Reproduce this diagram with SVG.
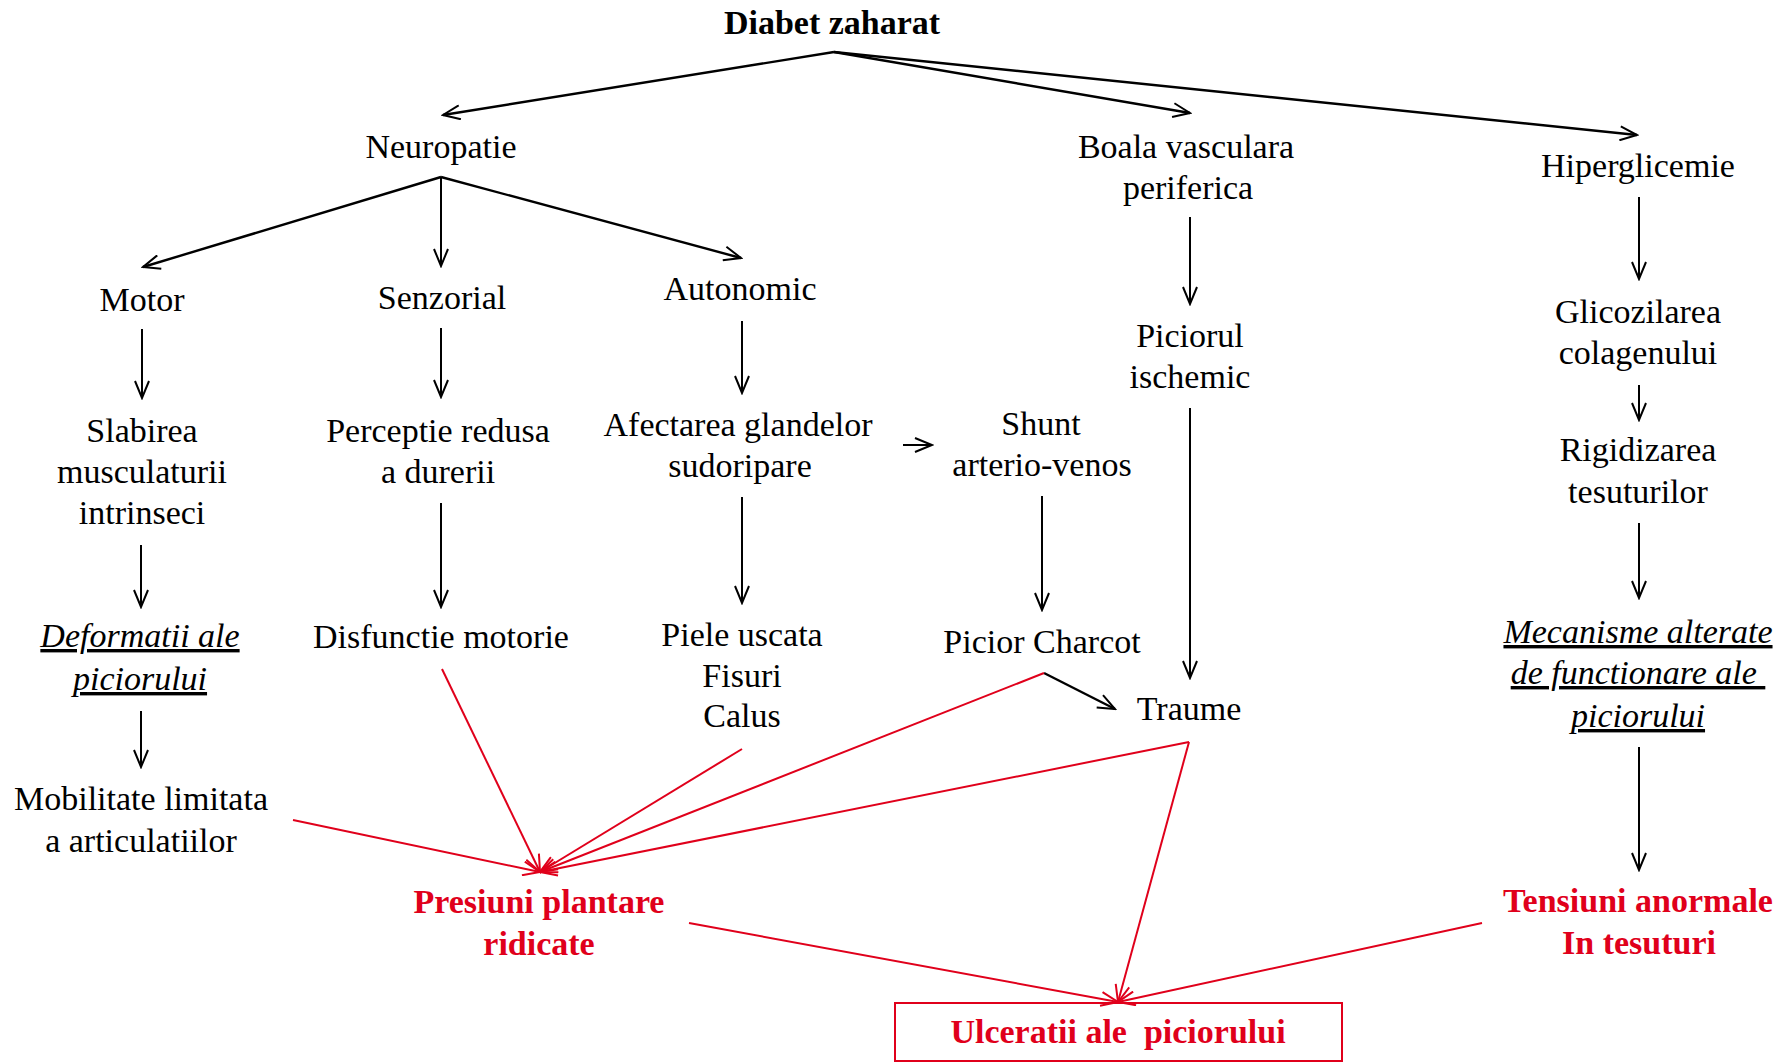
<svg xmlns="http://www.w3.org/2000/svg" width="1783" height="1063" viewBox="0 0 1783 1063">
<style>
text{font-family:"Liberation Serif","Times New Roman",serif;font-size:34px;text-anchor:middle;fill:#000}
.b{font-weight:bold}
.r{fill:#e0001b}
.i{font-style:italic;text-decoration:underline}
.pre{white-space:pre}
.k{stroke:#000;stroke-width:2;fill:none;marker-end:url(#ak)}
.kt{stroke:#000;stroke-width:2.4;fill:none;marker-end:url(#ak)}
.rd{stroke:#e0001b;stroke-width:2;fill:none;marker-end:url(#ar)}
</style>
<defs>
<marker id="ak" viewBox="0 0 20 16" refX="18" refY="8" markerWidth="20" markerHeight="16" markerUnits="userSpaceOnUse" orient="auto">
<path d="M1,1 L18,8 L1,15" fill="none" stroke="#000" stroke-width="2"/>
</marker>
<marker id="ar" viewBox="0 0 20 16" refX="18" refY="8" markerWidth="20" markerHeight="16" markerUnits="userSpaceOnUse" orient="auto">
<path d="M1,1 L18,8 L1,15" fill="none" stroke="#e0001b" stroke-width="2"/>
</marker>
</defs>
<rect width="1783" height="1063" fill="#fff"/>
<g id="connectors">
<line class="kt" x1="834" y1="52" x2="443" y2="115"/>
<line class="kt" x1="834" y1="52" x2="1190" y2="113"/>
<line class="kt" x1="834" y1="52" x2="1637" y2="135"/>
<line class="kt" x1="441" y1="177" x2="143" y2="267"/>
<line class="k" x1="441" y1="177" x2="441" y2="266"/>
<line class="kt" x1="441" y1="177" x2="741" y2="258"/>
<line class="k" x1="142" y1="329" x2="142" y2="398"/>
<line class="k" x1="441" y1="328" x2="441" y2="397"/>
<line class="k" x1="742" y1="321" x2="742" y2="393"/>
<line class="k" x1="1190" y1="217" x2="1190" y2="304"/>
<line class="k" x1="1639" y1="197" x2="1639" y2="279"/>
<line class="k" x1="903" y1="445" x2="932" y2="445"/>
<line class="k" x1="1190" y1="408" x2="1190" y2="678"/>
<line class="k" x1="1639" y1="385" x2="1639" y2="420"/>
<line class="k" x1="141" y1="545" x2="141" y2="607"/>
<line class="k" x1="441" y1="503" x2="441" y2="607"/>
<line class="k" x1="742" y1="497" x2="742" y2="603"/>
<line class="k" x1="1042" y1="496" x2="1042" y2="610"/>
<line class="k" x1="1639" y1="523" x2="1639" y2="598"/>
<line class="k" x1="141" y1="711" x2="141" y2="767"/>
<line class="kt" x1="1044" y1="673" x2="1115" y2="709"/>
<line class="k" x1="1639" y1="747" x2="1639" y2="870"/>
<line class="rd" x1="293" y1="820" x2="540" y2="872"/>
<line class="rd" x1="442" y1="669" x2="540" y2="872"/>
<line class="rd" x1="742" y1="749" x2="540" y2="872"/>
<line class="rd" x1="1044" y1="673" x2="540" y2="872"/>
<line class="rd" x1="1189" y1="742" x2="540" y2="872"/>
<line class="rd" x1="689" y1="923" x2="1118" y2="1002"/>
<line class="rd" x1="1189" y1="742" x2="1118" y2="1002"/>
<line class="rd" x1="1482" y1="923" x2="1118" y2="1002"/>
</g>
<g id="diabet"><text class="b" x="832" y="34">Diabet zaharat</text></g>
<g id="neuropatie"><text x="441" y="158">Neuropatie</text></g>
<g id="boala"><text x="1186" y="158">Boala vasculara</text><text x="1188" y="199">periferica</text></g>
<g id="hiperglicemie"><text x="1638" y="177">Hiperglicemie</text></g>
<g id="motor"><text x="142" y="311">Motor</text></g>
<g id="senzorial"><text x="442" y="309">Senzorial</text></g>
<g id="autonomic"><text x="740" y="300">Autonomic</text></g>
<g id="piciorul"><text x="1190" y="347">Piciorul</text><text x="1190" y="388">ischemic</text></g>
<g id="glicozilarea"><text x="1638" y="323">Glicozilarea</text><text x="1638" y="364">colagenului</text></g>
<g id="slabirea"><text x="142" y="442">Slabirea</text><text x="142" y="483">musculaturii</text><text x="142" y="524">intrinseci</text></g>
<g id="perceptie"><text x="438" y="442">Perceptie redusa</text><text x="438" y="483">a durerii</text></g>
<g id="afectarea"><text x="738" y="436">Afectarea glandelor</text><text x="740" y="477">sudoripare</text></g>
<g id="shunt"><text x="1041" y="435">Shunt</text><text x="1042" y="476">arterio-venos</text></g>
<g id="rigidizarea"><text x="1638" y="461">Rigidizarea</text><text x="1638" y="503">tesuturilor</text></g>
<g id="deformatii"><text class="i" x="140" y="647">Deformatii ale</text><text class="i" x="140" y="690">piciorului</text></g>
<g id="disfunctie"><text x="441" y="648">Disfunctie motorie</text></g>
<g id="piele"><text x="742" y="646">Piele uscata</text><text x="742" y="687">Fisuri</text><text x="742" y="727">Calus</text></g>
<g id="charcot"><text x="1042" y="653">Picior Charcot</text></g>
<g id="traume"><text x="1189" y="720">Traume</text></g>
<g id="mecanisme"><text class="i" x="1638" y="643">Mecanisme alterate</text><text class="i pre" x="1638" y="684">de functionare ale </text><text class="i" x="1638" y="727">piciorului</text></g>
<g id="mobilitate"><text x="141" y="810">Mobilitate limitata</text><text x="141" y="852">a articulatiilor</text></g>
<g id="presiuni"><text class="b r" x="539" y="913">Presiuni plantare</text><text class="b r" x="539" y="955">ridicate</text></g>
<g id="tensiuni"><text class="b r" x="1638" y="912">Tensiuni anormale</text><text class="b r" x="1639" y="954">In tesuturi</text></g>
<g id="ulceratii"><rect x="895" y="1003" width="447" height="58" fill="none" stroke="#e0001b" stroke-width="2"/><text class="b r pre" x="1118" y="1043">Ulceratii ale  piciorului</text></g>
</svg>
